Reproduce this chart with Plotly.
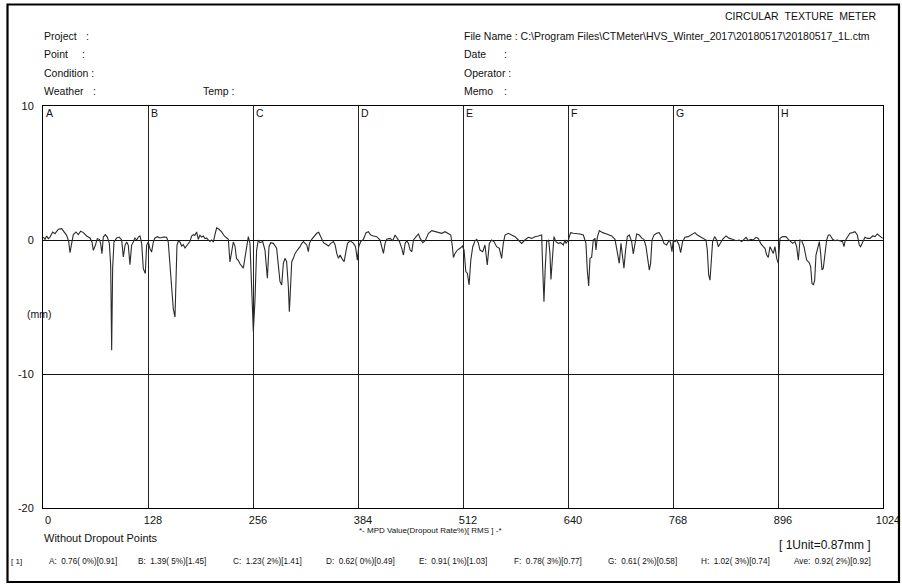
import plotly.graph_objects as go

# ---------------- data ----------------
X_TICKS = [0, 128, 256, 384, 512, 640, 768, 896, 1024]
Y_TICKS = [10, 0, -10, -20]
SECTIONS = ["A", "B", "C", "D", "E", "F", "G", "H"]
MPD = [0.76, 1.39, 1.23, 0.62, 0.91, 0.78, 0.61, 1.02]
DROPOUT = [0, 5, 2, 0, 1, 3, 2, 3]
RMS = [0.91, 1.45, 1.41, 0.49, 1.03, 0.77, 0.58, 0.74]
AVE_MPD, AVE_DROP, AVE_RMS = 0.92, 2, 0.92
UNIT_MM = 0.87
FILE_NAME = r"C:\Program Files\CTMeter\HVS_Winter_2017\20180517\20180517_1L.ctm"

PROFILE_X = [
    0.4, 2.4, 4.5, 6.5, 8.5, 11.8, 14.6, 18.7, 22.8, 25.6, 28.8, 31.3, 32.9, 34.9, 37, 40.2, 43, 45.9,
    49.2, 53.2, 57.3, 59.7, 61.4, 63.8, 66.2, 68.7, 70.3, 71.9, 73.5, 76, 78.4, 80.9, 82.5, 83.7, 84.9,
    86.5, 89.8, 93, 95.9, 97.9, 100, 102, 104, 106, 108, 110, 112, 114.2, 116.2, 118.2, 120.3, 122.3,
    124.7, 126.3,
    128.4, 130.4, 132.4, 134.5, 136.5, 139.7, 142.6, 146.6, 150.7, 152.7, 154.8, 156.8, 158.8, 160.9,
    162.1, 163.3, 164.9, 167, 169, 171, 173.1, 175.1, 177.1, 179.2, 181.2, 183.2, 185.2, 187.3, 189.3,
    191.3, 193.4, 195.4, 197.4, 199.5, 201.5, 203.5, 205.6, 207.6, 209.6, 211.7, 214.5, 217.8, 221,
    223.8, 225.9, 227.9, 229.9, 232, 234, 236, 238.1, 240.1,
    244.2, 248.3, 250.3, 252.3, 254.4, 256.4, 258.4, 260.4, 262.5, 264.5, 267.8, 270.6, 273.5, 275.5,
    277.5, 280.8, 284.8, 286.9, 288.9, 291, 293, 295, 297, 299.1, 300.3, 302, 303.2, 305.2, 307.3,
    310.1, 313.4, 315.4, 317.4, 319.5, 321.5, 323.5, 324.8, 327.6, 330.4, 333.7, 336.1, 338.6, 341.9,
    345.1, 348, 350.8, 354.1, 356.1, 358.1, 360.2, 362.2, 364.2, 367.1, 369.6, 371.2, 374.5, 378.5,
    381, 383.2, 384.9, 387.3, 390.6, 393.9, 396.7, 399.5, 402.8, 406.8, 410.9, 412.9, 415, 417, 419,
    423.1, 426.4, 429.2, 431.2, 434.5, 437.4, 439.4, 441.4, 443.5, 445.5, 447.5, 449.6, 451.6, 454.9,
    457.7, 459.8, 463, 465.9, 469.9, 474, 478, 482.1, 486.1, 490.2, 494.2, 497.1, 499.1, 500.3, 502.3,
    505.2, 508.4, 511.3, 513.3, 515.4, 517.4, 519.4, 521.5, 523.9, 526.8, 528.8, 530.8,
    532.7, 536, 538.8, 541.6, 544.1, 546.9, 549.8, 553, 556.3, 559.1, 561.1, 563.2, 567.2, 571.3,
    575.4, 579.4, 583.5, 587.5, 591.6, 595.7, 599.7, 603.8, 607.9, 609.1, 610.7, 612.3, 614, 616.4,
    618, 619.2, 620.9, 622.9, 625.3, 628.2, 631, 634.3, 636.3, 637.5, 640.4, 643.2, 646.5, 650.5,
    654.6, 658.7, 661.9, 663.5, 665.2, 666.8, 668.8, 670.8, 672.9, 674.1, 675.7, 678.2, 682.2, 687.1,
    693.2, 697.3, 700.1, 702.5, 704.6, 706.2, 708.2, 710.2, 712.3, 714.7, 717.6, 719.6, 721.6, 723.7,
    726.9, 730.2, 732.6, 735.1, 737.1, 739.1, 740.7, 742.4, 744.8, 748, 751.1, 754.1, 757, 760.2,
    763.5, 765.1, 766.7, 768.4, 770.4, 772.4, 775.3, 777.3, 779.7, 782.6, 786.6, 790.7, 794.8, 797.6,
    800.9,
    805, 808.2, 809.8, 811.5, 813.1, 814.7, 816.3, 818.8, 821.2, 823.2, 825.3, 828.5, 832.6, 836.7,
    840.7, 844.8, 848.8, 851.7, 854.5, 857, 859.8, 862.7, 865.9, 869.2, 872, 874.8, 878.1, 880.1,
    882.2, 884.2, 886.2, 888.3, 890.3, 892.3, 894.4, 896.4, 898.4, 901.7, 905.7, 908.6, 911.4, 913.9,
    916.7, 918.7, 920.8, 922.8, 924.8, 927.7, 930.9, 934.2, 935.8, 937.4, 939.1, 940.7, 942.3, 944.7,
    946.4, 948, 949.6, 951.2, 953.3, 955.3, 957.3, 959.4, 962.6, 965.4, 968.3, 971.5, 974.8, 976.4,
    978, 980.5, 983.7, 987, 989.8, 992.7, 995.1, 996.7, 999.2, 1002, 1004.9, 1008.1, 1011.4, 1014.2,
    1017.1, 1019.5, 1022.3, 1023.6,
]
PROFILE_Y = [
    0.22, 0.05, 0.3, 0.1, 0.22, 0.6, 0.47, 0.8, 0.85, 0.65, 0.35, -0.1, -0.95, -0.27, 0.4, 0.6, 0.4, 0.65,
    0.55, 0.3, 0.15, -0.15, -0.77, -0.4, 0.1, 0.05, -0.27, -1.02, 0.22, 0.4, 0.22, -0.27, -1.9, -8.23, -2.1,
    -0.15, 0.15, 0.22, 0, -1.27, -0.4, -0.15, -0.4, -1.84, -0.4, -0.15, 0.15, 0, 0.22, 0.3, -0.27, -2.14,
    -2.5, -0.4,
    -0.15, -0.65, -0.9, -0.15, 0.15, 0.25, 0.15, 0.22, 0.2, -0.15, -1.9, -4.13, -5.12, -5.75,
    -3.6, -0.4, -0.1, -0.15, -0.45, -0.35, -0.6, -0.45, -0.27, -0.1, 0.3, 0.4, 0.35, 0.6, 0.05,
    0.35, 0.22, 0.3, 0.1, 0.15, 0, -0.1, 0, -0.15, 0.4, 0.9, 0.8, 0.6, 0.3,
    0.15, 0.05, -1.64, -0.77, -0.15, -0.45, -1.4, -1.52, -1.77,
    -2.1, -0.25, 0.25, -0.25, -3.2, -6.84, -4.5, -0.75, 0, -0.2, -0.12, -0.75, -2.86, -0.5,
    -0.2, -0.25, -0.62, -2.0, -3.1, -3.36, -1.74, -1.37, -1.62, -3.48, -5.35, -3.23, -1.62, -1.37, -1.0,
    -0.75, -0.5, -0.25, -0.12, -0.25, -0.37, -0.87, -0.25, 0.05, 0.25, 0.5, 0.57, 0.25, -0.2,
    -0.32, -0.45, -0.25, -0.12, -0.37, -1.0, -1.37, -1.12, -1.37, -1.62, -0.75, -0.25, -0.05, -0.25,
    -0.5, -1.5, -0.5, -0.12, 0.05, 0.55, 0.62, 0.37, 0.3, 0.25, 0, -0.5, -1.0, -0.25, 0.05,
    0.12, -0.05, 0.37, 0.2, -0.12, -0.62, -1.12, -0.25, -0.05, -0.25, -0.75, -0.87, 0, 0.25,
    0.45, 0.12, -0.2, -0.05, 0.5, 0.7, 0.62, 0.55, 0.5, 0.62, 0.5, 0.37, -0.5, -1.3, -1.0,
    -0.75, -0.62, -0.45, -0.75, -2.36, -2.5, -3.36, -1.5, -0.5, -0.05, 0.05, -0.25,
    -0.75, -0.87, -0.37, -1.87, -0.25, 0, -0.12, -0.5, -0.62, -1.37, -0.25, 0.37, 0.5, 0.37,
    0.25, 0, -0.25, 0, 0.2, 0.12, 0.25, 0.3, 0.37, -2.0, -4.6, -2.0, -0.12, 0,
    -1.0, -2.94, -1.0, 0.25, -0.12, -0.25, -0.2, -0.37, 0, -0.25, 0, 0.55, 0.5, 0.5,
    0.45, 0.37, -0.25, -2.24, -3.43, -1.37, -1.3, 0, 0.12, -0.75, 0.2, 0.7, 0.55, 0.45,
    0.3, 0.05, -1.0, -1.74, -0.25, -1.12, -2.11, -0.75, 0.25, 0.37, -0.12, -1.04, -0.25, 0.45,
    0.37, 0.12, 0.05, -0.5, -1.37, -2.24, -1.74, 0, 0.37, 0.5, 0.55, 0.25, -0.25, -0.37,
    0, -0.25, -0.87, 0, -0.12, 0, -0.37, -0.94, -0.12, 0.2, 0.25, 0.37, 0.55, 0.37,
    0.25,
    0.12, 0, -0.75, -2.6, -3.0, -1.0, -0.12, 0.25, 0, -0.5, -0.25, 0.05, 0.3, 0.12,
    0.05, -0.05, 0, -0.12, 0.05, 0.2, -0.05, 0.05, 0, 0.2, 0.12, -0.25, -0.5, -0.62,
    -1.12, -1.3, -0.5, -0.75, -1.0, -0.5, -1.37, -1.74, 0.12, 0.25, 0.25, 0.05, -0.12, -0.25,
    -0.12, -0.5, -1.5, 0, -0.05, -0.5, -1.5, -1.7, -2.0, -3.23, -3.36, -3.0, -1.12, -0.5,
    -0.12, -1.0, -2.24, -2.11, -1.12, 0, 0.37, 0.37, 0.05, -0.05, 0, -0.05, -0.12, -0.5,
    -0.05, 0.2, 0.5, 0.55, 0.62, 0.37, -0.37, -0.5, -0.12, 0.2, 0.12, 0.12, 0.3, 0.25,
    0.45, 0.3, 0.2, 0.12,
]

# ---------------- layout helpers ----------------
W, H = 902, 584
ML, MR, MT, MB = 43, 19, 106, 76
FONT = "Liberation Sans, Arial, sans-serif"


def px(x):
    return (x - ML) / (W - ML - MR)


def py(y):
    return (H - MB - y) / (H - MT - MB)


NB = "\u00a0"
annotations = []


def text(x, y, s, size=10.5, anchor="left", color="#111"):
    annotations.append(dict(
        x=px(x), y=py(y), xref="paper", yref="paper", text=s, showarrow=False,
        xanchor=anchor, yanchor="middle", font=dict(family=FONT, size=size, color=color),
        borderpad=0,
    ))


# header
text(878, 16, f"CIRCULAR{NB}{NB}TEXTURE{NB}{NB}METER", 10.5, "right")
text(43, 36, "Project")
text(87.5, 36, ":", anchor="center")
text(43, 54, "Point")
text(83.5, 54, ":", anchor="center")
text(43, 72.5, f"Condition{NB}:")
text(43, 90.5, "Weather")
text(94, 90.5, ":", anchor="center")
text(202, 90.5, f"Temp{NB}:")
text(463, 36, f"File{NB}Name{NB}:{NB}{FILE_NAME}")
text(463, 54, "Date")
text(505, 54, ":", anchor="center")
text(463, 72.5, f"Operator{NB}:")
text(463, 90.5, "Memo")
text(505, 90.5, ":", anchor="center")

# footer
text(43, 538, f"Without{NB}Dropout{NB}Points", 11)
text(358, 530, f"*-{NB}MPD{NB}Value(Dropout{NB}Rate%)[{NB}RMS{NB}]{NB}-*", 8)
text(778, 545, f"[{NB}1Unit={UNIT_MM}mm{NB}]", 12)
text(10, 561, f"[{NB}1]", 8)
row_x = [48, 137, 232, 325, 418, 513, 607, 700]
for xx, s, m, d, r in zip(row_x, SECTIONS, MPD, DROPOUT, RMS):
    text(xx, 561, f"{s}:{NB}{NB}{m:.2f}({NB}{d}%)[{r:.2f}]", 8.2)
text(793, 561, f"Ave:{NB}{NB}{AVE_MPD:.2f}({NB}{AVE_DROP}%)[{AVE_RMS:.2f}]", 8.2)

# section letters (data coords)
for i, s in enumerate(SECTIONS):
    annotations.append(dict(
        x=X_TICKS[i], y=Y_TICKS[0], xref="x", yref="y", text=s, showarrow=False,
        xanchor="left", yanchor="top", xshift=2, yshift=0,
        font=dict(family=FONT, size=10.5, color="#111"), borderpad=0,
    ))

# (mm) label
annotations.append(dict(
    x=0, y=-5.5, xref="paper", yref="y", text="(mm)", showarrow=False,
    xanchor="center", yanchor="middle", xshift=-4,
    font=dict(family=FONT, size=10.5, color="#111"), borderpad=0,
))

fig = go.Figure()
fig.add_trace(go.Scatter(
    x=PROFILE_X, y=PROFILE_Y, mode="lines",
    line=dict(color="#2b2b2b", width=1.1), hoverinfo="skip", showlegend=False,
))

fig.update_layout(
    width=W, height=H,
    margin=dict(l=ML, r=MR, t=MT, b=MB, autoexpand=False),
    paper_bgcolor="white", plot_bgcolor="white",
    showlegend=False,
    annotations=annotations,
    shapes=[dict(
        type="rect", xref="paper", yref="paper",
        x0=px(7.5), x1=px(899), y0=py(582), y1=py(4.5),
        line=dict(color="black", width=2.2), layer="above",
    )],
    xaxis=dict(
        range=[X_TICKS[0], X_TICKS[-1]], tickmode="array", tickvals=X_TICKS,
        ticktext=[str(v) for v in X_TICKS], showgrid=True, gridcolor="#222", gridwidth=1,
        zeroline=False, showline=True, linecolor="black", linewidth=1, mirror=True,
        ticks="", ticklabelstandoff=2, ticklabelshift=5,
        tickfont=dict(family=FONT, size=11, color="#111"),
    ),
    yaxis=dict(
        range=[Y_TICKS[-1], Y_TICKS[0]], tickmode="array", tickvals=Y_TICKS,
        ticktext=[str(v) for v in Y_TICKS], showgrid=True, gridcolor="#111", gridwidth=1,
        zeroline=False, showline=True, linecolor="black", linewidth=1, mirror=True,
        ticks="", ticklabelstandoff=6,
        tickfont=dict(family=FONT, size=11, color="#111"),
    ),
)

fig.write_html(
    "out.html",
    config={"displayModeBar": False, "staticPlot": True},
    post_script="document.body.style.margin='0';document.body.style.overflow='hidden';",
)
